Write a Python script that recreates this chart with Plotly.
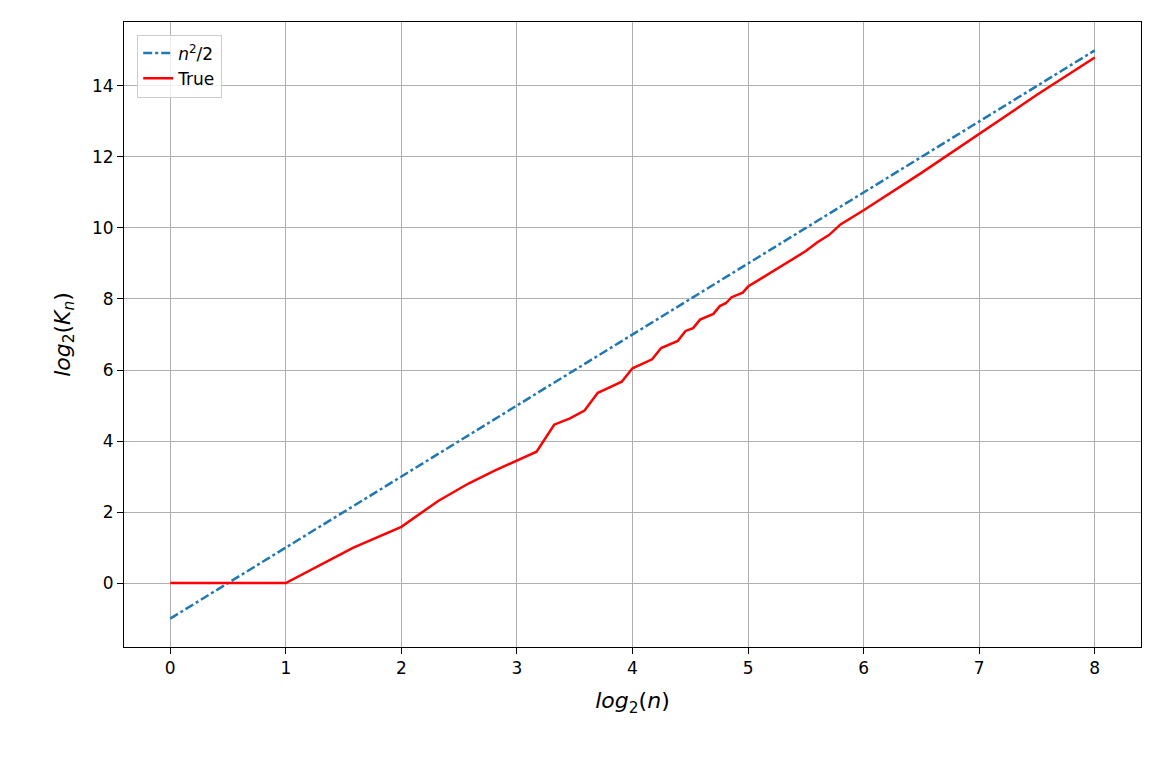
import plotly.graph_objects as go

# n^2/2 line endpoints (log2 scale)
approx_x = [0, 8]
approx_y = [-1, 15]

# true values
true_x = [0, 1, 1.585, 2, 2.322, 2.585, 2.807, 3, 3.17, 3.322, 3.459, 3.585, 3.7,
          3.807, 3.907, 4, 4.087, 4.17, 4.248, 4.322, 4.392, 4.459, 4.524, 4.585,
          4.644, 4.7, 4.755, 4.807, 4.858, 4.907, 4.954, 5, 5.1, 5.2, 5.3, 5.4,
          5.5, 5.6, 5.7, 5.8, 5.9, 6, 6.5, 7, 7.5, 8]
true_y = [0, 0, 1, 1.585, 2.32, 2.81, 3.17, 3.46, 3.7, 4.46, 4.64, 4.86, 5.36,
          5.52, 5.67, 6.05, 6.17, 6.3, 6.62, 6.72, 6.82, 7.1, 7.18, 7.42,
          7.5, 7.58, 7.8, 7.88, 8.05, 8.12, 8.18, 8.35, 8.55, 8.75, 8.95, 9.15,
          9.35, 9.6, 9.8, 10.1, 10.3, 10.5, 11.55, 12.65, 13.75, 14.8]

fig = go.Figure()
fig.add_trace(go.Scatter(x=approx_x, y=approx_y, mode="lines", name="<i>n</i><sup>2</sup>/2",
                         line=dict(color="#1f77b4", width=2.5, dash="dashdot")))
fig.add_trace(go.Scatter(x=true_x, y=true_y, mode="lines", name="True",
                         line=dict(color="red", width=2.5)))

axis_style = dict(showgrid=True, gridcolor="#b0b0b0", gridwidth=1, zeroline=False,
                  showline=True, linecolor="black", linewidth=1, mirror=True,
                  ticks="outside", ticklen=6, tickcolor="black",
                  tickfont=dict(size=17, color="black"))

fig.update_xaxes(range=[-0.4, 8.4], dtick=1,
                 title=dict(text="<i>log</i><sub>2</sub>(<i>n</i>)", font=dict(size=22, color="black")),
                 **axis_style)
fig.update_yaxes(range=[-1.8, 15.8], tickvals=[0, 2, 4, 6, 8, 10, 12, 14],
                 title=dict(text="<i>log</i><sub>2</sub>(<i>K<sub>n</sub></i>)", font=dict(size=22, color="black")),
                 **axis_style)

fig.update_layout(
    width=1164, height=764,
    font=dict(family="DejaVu Sans"),
    plot_bgcolor="white", paper_bgcolor="white",
    margin=dict(l=116, r=31, t=14, b=125),
    legend=dict(x=0.013, y=0.98, xanchor="left", yanchor="top",
                bgcolor="rgba(255,255,255,0.8)", bordercolor="#cccccc", borderwidth=1,
                font=dict(size=17, color="black")),
)

fig.write_html("out.html")
